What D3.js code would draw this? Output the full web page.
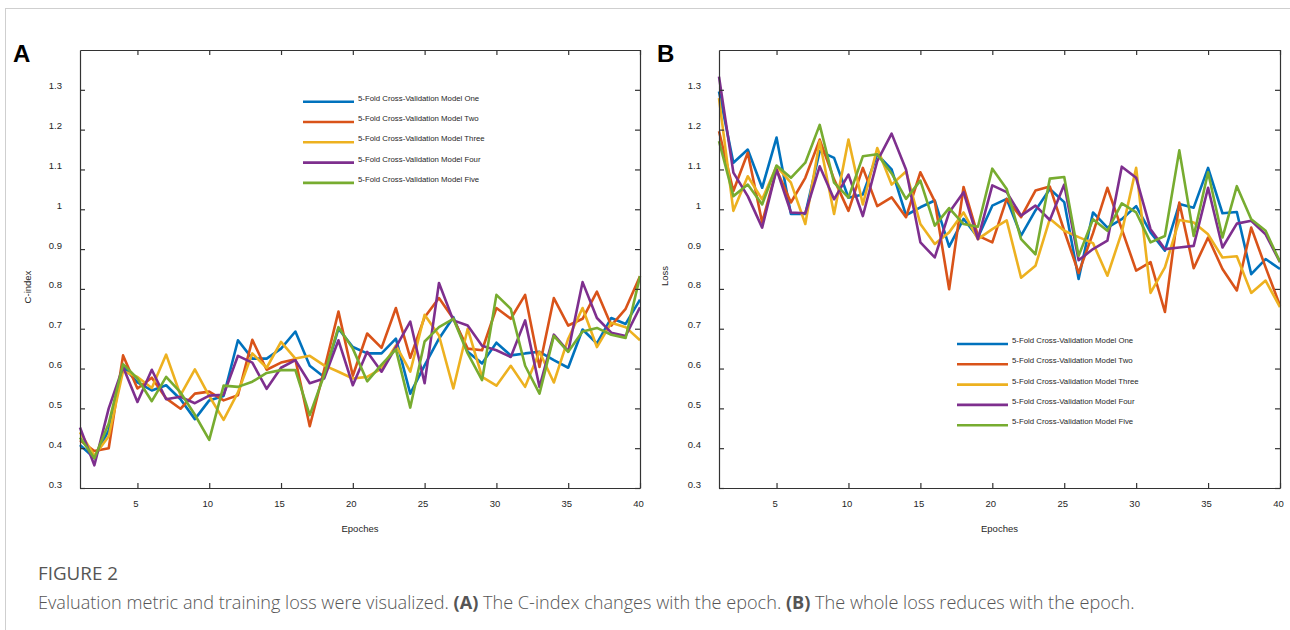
<!DOCTYPE html>
<html><head><meta charset="utf-8">
<script src="https://cdn.jsdelivr.net/npm/d3@7"></script>
<style>body{margin:0;background:#fff;} svg{display:block;}</style>
</head><body>
<svg id="c" width="1290" height="630"></svg>
<script>
const epochs = d3.range(1, 41);
const seriesNames = [
  "5-Fold Cross-Validation Model One",
  "5-Fold Cross-Validation Model Two",
  "5-Fold Cross-Validation Model Three",
  "5-Fold Cross-Validation Model Four",
  "5-Fold Cross-Validation Model Five"
];
const colors = ["#0072BD", "#D95319", "#EDB120", "#7E2F8E", "#77AC30"];

// Panel A: C-index
const cindexOne = [0.408,0.375,0.445,0.605,0.565,0.545,0.558,0.523,0.473,0.52,0.531,0.671,0.625,0.625,0.65,0.693,0.607,0.579,0.70,0.654,0.638,0.638,0.675,0.537,0.608,0.675,0.729,0.642,0.613,0.665,0.633,0.638,0.642,0.621,0.602,0.698,0.663,0.727,0.712,0.773];
const cindexTwo = [0.42,0.393,0.40,0.633,0.55,0.577,0.525,0.499,0.537,0.542,0.52,0.533,0.672,0.597,0.615,0.623,0.455,0.596,0.743,0.582,0.688,0.652,0.752,0.627,0.729,0.777,0.725,0.65,0.646,0.752,0.725,0.785,0.604,0.777,0.708,0.725,0.793,0.708,0.75,0.832];
const cindexThree = [0.44,0.381,0.43,0.594,0.579,0.551,0.635,0.533,0.598,0.531,0.471,0.54,0.638,0.602,0.667,0.625,0.632,0.608,0.592,0.575,0.579,0.60,0.658,0.592,0.735,0.683,0.55,0.70,0.579,0.557,0.607,0.554,0.642,0.565,0.675,0.752,0.654,0.715,0.704,0.671];
const cindexFour = [0.452,0.357,0.50,0.604,0.516,0.597,0.523,0.529,0.513,0.532,0.534,0.632,0.615,0.549,0.602,0.621,0.563,0.575,0.671,0.558,0.642,0.592,0.654,0.718,0.563,0.815,0.721,0.708,0.657,0.646,0.629,0.721,0.554,0.685,0.643,0.817,0.727,0.69,0.682,0.754];
const cindexFive = [0.427,0.375,0.462,0.611,0.575,0.518,0.579,0.54,0.484,0.421,0.557,0.554,0.567,0.589,0.596,0.596,0.483,0.583,0.704,0.65,0.568,0.61,0.648,0.502,0.668,0.704,0.725,0.638,0.571,0.785,0.75,0.607,0.537,0.682,0.642,0.693,0.702,0.685,0.677,0.832];

// Panel B: Loss
const lossOne = [1.296,1.117,1.15,1.054,1.18,0.988,0.988,1.146,1.129,1.029,1.037,1.138,1.10,0.985,1.005,1.022,0.906,0.976,0.929,1.009,1.026,0.934,0.997,1.051,1.018,0.825,0.992,0.954,0.975,1.008,0.942,0.896,1.013,1.004,1.104,0.99,0.993,0.837,0.875,0.85];
const lossTwo = [1.196,1.046,1.142,0.967,1.10,1.017,1.079,1.175,1.075,0.996,1.104,1.008,1.03,0.98,1.093,1.02,0.799,1.056,0.934,0.917,1.026,0.98,1.047,1.057,0.946,0.84,0.94,1.054,0.95,0.846,0.867,0.742,1.017,0.852,0.929,0.85,0.796,0.954,0.854,0.758];
const lossThree = [1.279,0.996,1.083,1.025,1.108,1.067,0.963,1.171,0.988,1.175,1.012,1.154,1.062,1.095,0.963,0.913,0.942,0.992,0.925,0.95,0.972,0.828,0.858,0.976,0.946,0.93,0.915,0.833,0.942,1.104,0.79,0.854,0.973,0.967,0.937,0.879,0.882,0.79,0.821,0.754];
const lossFour = [1.333,1.092,1.033,0.954,1.10,0.992,0.99,1.108,1.025,1.087,0.983,1.121,1.19,1.10,0.917,0.879,0.992,1.043,0.925,1.06,1.043,0.984,1.009,0.973,1.062,0.872,0.9,0.921,1.107,1.079,0.95,0.9,0.904,0.908,1.054,0.904,0.964,0.971,0.937,0.867];
const lossFive = [1.171,1.033,1.062,1.012,1.11,1.079,1.117,1.212,1.067,1.029,1.133,1.138,1.09,1.026,1.072,0.959,1.003,0.963,0.956,1.102,1.051,0.925,0.887,1.077,1.081,0.883,0.975,0.946,1.015,0.992,0.917,0.933,1.148,0.933,1.093,0.929,1.058,0.975,0.946,0.868];

const xTicks = [5, 10, 15, 20, 25, 30, 35, 40];
const yTicks = [0.3, 0.4, 0.5, 0.6, 0.7, 0.8, 0.9, 1, 1.1, 1.2, 1.3];
const xDomain = [1, 40];
const yDomain = [0.3, 1.4];

const svg = d3.select("#c");
const FONT = "'Liberation Sans', Arial, Helvetica, sans-serif";
const AX = "#333";

// page frame lines
svg.append("line").attr("x1", 5).attr("x2", 1290).attr("y1", 8.5).attr("y2", 8.5).attr("stroke", "#cfcfcf").attr("stroke-width", 1);
svg.append("line").attr("x1", 5.5).attr("x2", 5.5).attr("y1", 8).attr("y2", 630).attr("stroke", "#cfcfcf").attr("stroke-width", 1);

function drawPanel(cfg) {
  const g = svg.append("g");
  const x = d3.scaleLinear().domain(xDomain).range([cfg.left, cfg.right]);
  const y = d3.scaleLinear().domain(yDomain).range([cfg.bottom, cfg.top]);

  const line = d3.line().x((d, i) => x(epochs[i])).y(d => y(d));
  cfg.series.forEach((s, k) => {
    g.append("path").datum(s).attr("d", line)
      .attr("fill", "none").attr("stroke", colors[k])
      .attr("stroke-width", 2.6).attr("stroke-linejoin", "round");
  });

  function style(sel) {
    sel.select(".domain").attr("stroke", AX).attr("stroke-width", 1.2);
    sel.selectAll(".tick line").attr("stroke", AX).attr("stroke-width", 1.2);
    sel.selectAll(".tick text").attr("fill", "#262626").attr("font-size", 9.5).attr("font-family", FONT);
  }
  const fmt = d => String(+d.toFixed(1));
  const bx = g.append("g").attr("transform", `translate(0,${cfg.bottom})`)
    .call(d3.axisBottom(x).tickValues(xTicks).tickSizeInner(-5).tickSizeOuter(0).tickPadding(12).tickFormat(fmt))
    .call(style);
  bx.selectAll(".tick text").attr("dx", -2);
  g.append("g").attr("transform", `translate(0,${cfg.top})`)
    .call(d3.axisTop(x).tickValues(xTicks).tickSizeInner(-5).tickSizeOuter(0).tickFormat(""))
    .call(style);
  const la = g.append("g").attr("transform", `translate(${cfg.left},0)`)
    .call(d3.axisLeft(y).tickValues(yTicks).tickSizeInner(-5).tickSizeOuter(0).tickPadding(18).tickFormat(fmt))
    .call(style);
  la.selectAll(".tick text").attr("dy", "-0.1em");
  g.append("g").attr("transform", `translate(${cfg.right},0)`)
    .call(d3.axisRight(y).tickValues(yTicks).tickSizeInner(-5).tickSizeOuter(0).tickFormat(""))
    .call(style);

  g.append("text").attr("x", (cfg.left + cfg.right) / 2).attr("y", 532)
    .attr("text-anchor", "middle").attr("font-size", 9.5).attr("font-family", FONT).attr("fill", "#262626")
    .text("Epoches");
  g.append("text").attr("transform", `translate(${cfg.yLabelX},${cfg.yLabelY}) rotate(-90)`)
    .attr("text-anchor", "middle").attr("font-size", 9.5).attr("font-family", FONT).attr("fill", "#262626")
    .text(cfg.yLabel);

  g.append("text").attr("x", cfg.letterX).attr("y", 62).attr("font-size", 24).attr("font-weight", "bold")
    .attr("font-family", FONT).attr("fill", "#000").text(cfg.letter);

  seriesNames.forEach((name, k) => {
    const ly = cfg.legendY + k * 20.3;
    g.append("line").attr("x1", cfg.legendX).attr("x2", cfg.legendX + 51)
      .attr("y1", ly).attr("y2", ly).attr("stroke", colors[k]).attr("stroke-width", 2.6);
    g.append("text").attr("x", cfg.legendX + 55).attr("y", ly - 1)
      .attr("font-size", 7.8).attr("font-family", FONT).attr("fill", "#262626").text(name);
  });
}

drawPanel({
  left: 80, right: 640, top: 50, bottom: 488,
  series: [cindexOne, cindexTwo, cindexThree, cindexFour, cindexFive],
  yLabel: "C-index", yLabelX: 31, yLabelY: 287,
  letter: "A", letterX: 13,
  legendX: 303, legendY: 101.7
});
drawPanel({
  left: 719, right: 1280, top: 50, bottom: 488,
  series: [lossOne, lossTwo, lossThree, lossFour, lossFive],
  yLabel: "Loss", yLabelX: 668, yLabelY: 276,
  letter: "B", letterX: 657,
  legendX: 957, legendY: 344
});

// caption
const CAP = "'Open Sans', 'Noto Sans', sans-serif";
const fig = svg.append("text").attr("x", 38).attr("y", 580).attr("font-size", 17).attr("font-family", CAP)
  .attr("fill", "#555").attr("font-weight", 500).text("FIGURE 2");
const cap = svg.append("text").attr("x", 38).attr("y", 609).attr("font-size", 17)
  .attr("font-family", CAP).attr("fill", "#555");
[["Evaluation metric and training loss were visualized. ", 300], ["(A)", 700],
 [" The C-index changes with the epoch. ", 300], ["(B)", 700],
 [" The whole loss reduces with the epoch.", 300]].forEach(([t, w]) => {
  cap.append("tspan").attr("font-weight", w).text(t);
});
function fit(node, target) {
  const w = node.node().getComputedTextLength();
  if (w > 0) {
    const fs = +node.attr("font-size");
    node.attr("font-size", fs * target / w);
  }
}
fit(fig, 80);
fit(cap, 1097);
</script>
</body></html>
